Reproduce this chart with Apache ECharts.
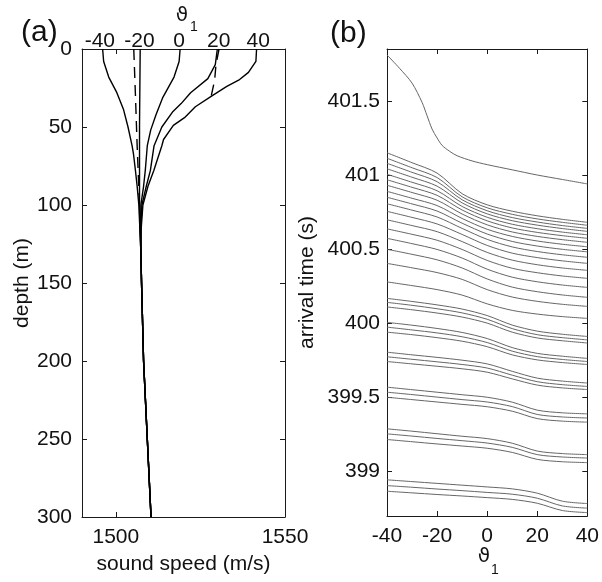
<!DOCTYPE html>
<html><head><meta charset="utf-8">
<script src="https://cdn.jsdelivr.net/npm/echarts@6/dist/echarts.min.js"></script>
<style>html,body{margin:0;padding:0;background:#fff}#c{width:602px;height:582px}</style>
</head><body><div id="c"></div>
<script>
// ---------- panel (a): sound speed profiles ----------
const depthTicks = [0, 50, 100, 150, 200, 250, 300];
const speedTickLabels = [1500, 1550];
const thetaTickLabels = [-40, -20, 0, 20, 40];

const depthM40 = [0, 8, 18, 28, 39, 50, 62, 67, 78, 88, 100, 115];
const speedM40 = [1496.1, 1496.4, 1497.9, 1500.3, 1502.3, 1503.6, 1504.8, 1505.2, 1505.8, 1506.3, 1506.8, 1507.1];
const depthM20 = [0, 50, 100, 115];
const speedM20 = [1507.2, 1507.0, 1507.0, 1507.1];
const depthZero = [0, 8, 18, 31, 42, 52, 62, 78, 88, 100, 115];
const speedZero = [1519.0, 1518.7, 1517.2, 1513.9, 1511.9, 1510.3, 1509.3, 1508.7, 1508.2, 1507.4, 1507.3];
const depthP20 = [0, 10, 19, 28, 35, 40, 50, 62, 78, 88, 100, 115];
const speedP20 = [1530.0, 1529.4, 1527.2, 1522.1, 1519.3, 1516.9, 1513.6, 1511.3, 1510.2, 1509.0, 1507.7, 1507.4];
const depthP40 = [0, 8, 15, 20, 24, 30, 37, 44, 49, 58, 62, 78, 88, 100, 115];
const speedP40 = [1541.6, 1541.4, 1539.2, 1536.3, 1532.8, 1528.4, 1523.5, 1520.3, 1517.0, 1514.1, 1513.6, 1511.2, 1509.5, 1508.0, 1507.5];
const depthDeep = [130, 150, 200, 250, 300];
const speedDeep = [1507.4, 1507.6, 1508.2, 1509.3, 1510.4];
const depthDash1 = [0, 30, 62, 100];
const speedDash1 = [1505.3, 1505.8, 1506.3, 1507.0];
const depthDash2 = [0, 10, 20, 30];
const speedDash2 = [1530.5, 1529.6, 1529.2, 1528.2];

// ---------- panel (b): arrival times ----------
const thetaGrid = [-40, -30, -20, -10, 0, 10, 20, 30, 40];
const timeTicks = [399, 399.5, 400, 400.5, 401, 401.5];
const thetaTicks = [-40, -20, 0, 20, 40];

const topRayTheta = [-40, -35, -30, -26, -24, -22, -20, -18, -15, -12, -6, 0, 10, 20, 30, 40];
const topRayTime = [401.81, 401.72, 401.62, 401.49, 401.40, 401.31, 401.25, 401.20, 401.16, 401.13, 401.095, 401.07, 401.035, 401.00, 400.97, 400.94];

const upperRays = [
  [401.150, 401.083, 401.013, 400.874, 400.799, 400.756, 400.725, 400.701, 400.681],
  [401.113, 401.049, 400.983, 400.853, 400.779, 400.735, 400.704, 400.681, 400.661],
  [401.079, 401.018, 400.955, 400.833, 400.759, 400.713, 400.683, 400.659, 400.640],
  [401.042, 400.985, 400.925, 400.812, 400.738, 400.692, 400.662, 400.639, 400.620],
  [401.005, 400.951, 400.894, 400.788, 400.715, 400.668, 400.638, 400.615, 400.597],
  [400.968, 400.917, 400.863, 400.764, 400.691, 400.643, 400.613, 400.591, 400.573],
  [400.931, 400.882, 400.830, 400.737, 400.664, 400.616, 400.586, 400.564, 400.546],
  [400.890, 400.843, 400.794, 400.707, 400.634, 400.586, 400.555, 400.533, 400.516],
  [400.850, 400.805, 400.757, 400.675, 400.602, 400.552, 400.521, 400.499, 400.482],
  [400.806, 400.763, 400.717, 400.640, 400.566, 400.515, 400.484, 400.462, 400.445],
  [400.755, 400.714, 400.670, 400.599, 400.525, 400.473, 400.443, 400.421, 400.404],
  [400.698, 400.659, 400.618, 400.551, 400.478, 400.426, 400.395, 400.373, 400.357],
  [400.637, 400.600, 400.560, 400.498, 400.424, 400.371, 400.341, 400.319, 400.303],
  [400.573, 400.537, 400.498, 400.440, 400.365, 400.311, 400.280, 400.258, 400.242],
  [400.499, 400.465, 400.428, 400.373, 400.299, 400.244, 400.213, 400.191, 400.175],
  [400.404, 400.374, 400.342, 400.296, 400.227, 400.177, 400.148, 400.128, 400.114],
  [400.279, 400.254, 400.227, 400.190, 400.131, 400.087, 400.062, 400.045, 400.033]
];
const rayGroup1 = [
  [400.168, 400.147, 400.124, 400.096, 400.052, 399.988, 399.947, 399.926, 399.911],
  [400.141, 400.121, 400.098, 400.070, 400.027, 399.964, 399.923, 399.903, 399.888],
  [400.110, 400.091, 400.069, 400.042, 400.001, 399.940, 399.901, 399.882, 399.867]
];
const rayGroup2 = [
  [400.006, 399.987, 399.965, 399.938, 399.897, 399.836, 399.797, 399.778, 399.763],
  [399.974, 399.955, 399.935, 399.909, 399.870, 399.812, 399.775, 399.756, 399.742],
  [399.940, 399.923, 399.903, 399.879, 399.842, 399.787, 399.753, 399.735, 399.722]
];
const rayGroup3 = [
  [399.805, 399.787, 399.770, 399.751, 399.726, 399.676, 399.630, 399.610, 399.597],
  [399.774, 399.757, 399.740, 399.722, 399.698, 399.650, 399.606, 399.586, 399.574],
  [399.742, 399.726, 399.710, 399.693, 399.670, 399.625, 399.583, 399.564, 399.553]
];
const rayGroup4 = [
  [399.569, 399.552, 399.535, 399.518, 399.501, 399.468, 399.414, 399.396, 399.389],
  [399.535, 399.519, 399.502, 399.485, 399.469, 399.438, 399.385, 399.368, 399.361],
  [399.501, 399.485, 399.469, 399.453, 399.437, 399.407, 399.357, 399.340, 399.333]
];
const rayGroup5 = [
  [399.288, 399.272, 399.255, 399.238, 399.222, 399.191, 399.138, 399.121, 399.114],
  [399.254, 399.239, 399.223, 399.208, 399.192, 399.163, 399.114, 399.098, 399.091],
  [399.216, 399.201, 399.186, 399.172, 399.157, 399.129, 399.082, 399.066, 399.060]
];
const rayGroup6 = [
  [398.944, 398.932, 398.920, 398.908, 398.896, 398.883, 398.854, 398.800, 398.784],
  [398.905, 398.894, 398.882, 398.871, 398.859, 398.847, 398.820, 398.768, 398.753],
  [398.867, 398.856, 398.845, 398.835, 398.824, 398.812, 398.786, 398.737, 398.723]
];

// ---------- build ----------
const FONT = '"Liberation Sans", Arial, Helvetica, sans-serif';
const AX = '#1a1a1a';
const TXT = '#111';
const FS = 21;
const pairs = (xs, ys) => xs.map((x, i) => [x, ys[i]]);
const profile = (d, s, withDeep) => {
  let pts = pairs(s, d);
  if (withDeep) pts = pts.concat(pairs(speedDeep, depthDeep));
  return pts;
};

const series = [];
function profLine(data, dashed) {
  series.push({
    type: 'line', xAxisIndex: 0, yAxisIndex: 0, data: data,
    showSymbol: false, symbol: 'none', silent: true, animation: false,
    lineStyle: { color: '#000', width: 1.4, type: dashed ? [11, 7] : 'solid' }
  });
}
profLine(profile(depthM40, speedM40, true));
profLine(profile(depthM20, speedM20, true));
profLine(profile(depthZero, speedZero, true));
profLine(profile(depthP20, speedP20, true));
profLine(profile(depthP40, speedP40, true));
profLine(profile(depthDash1, speedDash1, false), true);
profLine(profile(depthDash2, speedDash2, false), true);

function rayLine(xs, ys) {
  series.push({
    type: 'line', xAxisIndex: 3, yAxisIndex: 2, data: pairs(xs, ys),
    showSymbol: false, symbol: 'none', silent: true, animation: false,
    smooth: 0.3, lineStyle: { color: '#666', width: 1 }
  });
}
rayLine(topRayTheta, topRayTime);
[upperRays, rayGroup1, rayGroup2, rayGroup3, rayGroup4, rayGroup5, rayGroup6]
  .forEach(g => g.forEach(r => rayLine(thetaGrid, r)));

const plain = v => String(v);
const lbl = (extra) => Object.assign({ fontSize: FS, color: TXT, fontFamily: FONT }, extra);
const line = { show: true, onZero: false, lineStyle: { color: AX, width: 1 } };
const tick = (vals) => ({ show: true, inside: true, length: 5, lineStyle: { color: AX, width: 1 }, customValues: vals });

const option = {
  backgroundColor: '#fff',
  animation: false,
  grid: [
    { left: 82, top: 49, width: 203, height: 468 },
    { left: 387, top: 49, width: 203, height: 467 }
  ],
  xAxis: [
    { gridIndex: 0, type: 'value', position: 'bottom', min: 1490, max: 1550,
      axisLine: line, axisTick: tick([1500]), splitLine: { show: false },
      axisLabel: lbl({ customValues: speedTickLabels, margin: 10, formatter: plain }),
      name: 'sound speed (m/s)', nameLocation: 'middle', nameGap: 37,
      nameTextStyle: lbl({}) },
    { gridIndex: 0, type: 'value', position: 'top', min: -49, max: 53.5,
      axisLine: line, axisTick: { show: false }, splitLine: { show: false },
      axisLabel: lbl({ customValues: thetaTickLabels, margin: -3, formatter: plain }) },
    { gridIndex: 0, type: 'value', position: 'top', min: 1490, max: 1550,
      axisLine: { show: false }, axisTick: tick([1500]), splitLine: { show: false },
      axisLabel: { show: false } },
    { gridIndex: 1, type: 'value', position: 'bottom', min: -40, max: 40, interval: 20,
      axisLine: line, axisTick: tick(thetaTicks), splitLine: { show: false },
      axisLabel: lbl({ customValues: thetaTicks, margin: 10, formatter: plain }) },
    { gridIndex: 1, type: 'value', position: 'top', min: -40, max: 40, interval: 20,
      axisLine: line, axisTick: tick(thetaTicks), splitLine: { show: false },
      axisLabel: { show: false } }
  ],
  yAxis: [
    { gridIndex: 0, type: 'value', position: 'left', inverse: true, min: 0, max: 300, interval: 50,
      axisLine: line, axisTick: tick(depthTicks), splitLine: { show: false },
      axisLabel: lbl({ customValues: depthTicks, margin: 10, formatter: plain }),
      name: 'depth (m)', nameLocation: 'middle', nameGap: 44, nameRotate: 90,
      nameTextStyle: lbl({}) },
    { gridIndex: 0, type: 'value', position: 'right', inverse: true, min: 0, max: 300, interval: 50,
      axisLine: line, axisTick: tick(depthTicks), splitLine: { show: false },
      axisLabel: { show: false } },
    { gridIndex: 1, type: 'value', position: 'left', min: 398.7, max: 401.85,
      axisLine: line, axisTick: tick(timeTicks), splitLine: { show: false },
      axisLabel: lbl({ customValues: timeTicks, margin: 7, formatter: plain }),
      name: 'arrival time (s)', nameLocation: 'middle', nameGap: 69, nameRotate: 90,
      nameTextStyle: lbl({}) },
    { gridIndex: 1, type: 'value', position: 'right', min: 398.7, max: 401.85,
      axisLine: line, axisTick: tick(timeTicks), splitLine: { show: false },
      axisLabel: { show: false } }
  ],
  graphic: [
    { type: 'text', left: 21, top: 18, style: { text: '(a)', fontSize: 30, fill: TXT, fontFamily: FONT } },
    { type: 'text', left: 330, top: 19, style: { text: '(b)', fontSize: 30, fill: TXT, fontFamily: FONT } },
    { type: 'text', x: 182, y: 16, style: { text: 'ϑ', fontSize: 20, fill: TXT, fontFamily: '"DejaVu Sans", sans-serif', align: 'center', verticalAlign: 'middle' } },
    { type: 'text', x: 194, y: 27, style: { text: '1', fontSize: 14, fill: TXT, fontFamily: FONT, align: 'center', verticalAlign: 'middle' } },
    { type: 'text', x: 484, y: 557, style: { text: 'ϑ', fontSize: 20, fill: TXT, fontFamily: '"DejaVu Sans", sans-serif', align: 'center', verticalAlign: 'middle' } },
    { type: 'text', x: 495, y: 570, style: { text: '1', fontSize: 14, fill: TXT, fontFamily: FONT, align: 'center', verticalAlign: 'middle' } }
  ],
  series: series
};
const chart = echarts.init(document.getElementById('c'), null, { renderer: 'canvas' });
chart.setOption(option);
</script></body></html>
